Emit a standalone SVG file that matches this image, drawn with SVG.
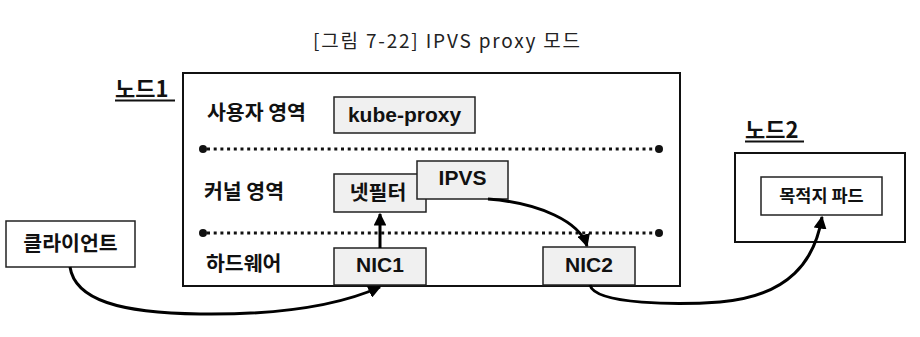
<svg xmlns="http://www.w3.org/2000/svg" width="920" height="337" viewBox="0 0 920 337">
<defs>
<style>
.ko{font-family:"Noto Sans CJK KR","Liberation Sans",sans-serif;font-weight:bold;font-size:20.5px;fill:#111}
.la{font-family:"Liberation Sans","Noto Sans CJK KR",sans-serif;font-weight:bold;font-size:21px;fill:#111}
.box{fill:#f0f0f0;stroke:#222;stroke-width:1.5}
.wbox{fill:#fff;stroke:#111;stroke-width:2}
.dot{stroke:#111;stroke-width:3;stroke-dasharray:3 3.7;fill:none}
.conn{fill:none;stroke:#000;stroke-width:3}
</style>
<marker id="ah" viewBox="0 0 10 10" refX="9" refY="5" markerWidth="4.3" markerHeight="4.3" orient="auto" markerUnits="strokeWidth">
<path d="M0,0 L10,5 L0,10 z" fill="#000"/>
</marker>
</defs>
<rect width="920" height="337" fill="#fff"/>
<text x="313" y="48" textLength="267" lengthAdjust="spacing" style="font-family:'Noto Sans CJK KR','Liberation Sans',sans-serif;font-size:19px;fill:#222">[그림 7-22] IPVS proxy 모드</text>

<g id="node1">
<rect x="183" y="73" width="497" height="213" class="wbox"/>
<text x="115" y="97" class="ko" style="font-size:22px">노드1</text>
<line x1="115" y1="100.5" x2="175" y2="100.5" stroke="#111" stroke-width="2"/>
<text x="207" y="120" class="ko">사용자 영역</text>
<text x="204" y="199" class="ko">커널 영역</text>
<text x="206" y="271" class="ko">하드웨어</text>
<line x1="207" y1="149" x2="655" y2="149" class="dot"/>
<circle cx="203" cy="149" r="4" fill="#111"/>
<circle cx="659" cy="149" r="4" fill="#111"/>
<line x1="207" y1="233" x2="655" y2="233" class="dot"/>
<circle cx="203" cy="233" r="4" fill="#111"/>
<circle cx="659" cy="233" r="4" fill="#111"/>
</g>

<g id="kube-proxy">
<rect x="334" y="97" width="141" height="36" class="box"/>
<text x="404.5" y="122" text-anchor="middle" class="la">kube-proxy</text>
</g>
<g id="netfilter">
<rect x="334" y="174" width="92" height="38" class="box"/>
<text x="378" y="200" text-anchor="middle" class="ko">넷필터</text>
</g>
<g id="ipvs">
<rect x="417" y="161" width="91" height="38" class="box"/>
<text x="462.5" y="185" text-anchor="middle" class="la">IPVS</text>
</g>
<g id="nic1">
<rect x="334" y="248" width="92" height="37" class="box"/>
<text x="380" y="272" text-anchor="middle" class="la">NIC1</text>
</g>
<g id="nic2">
<rect x="543" y="247" width="92" height="38" class="box"/>
<text x="589" y="272" text-anchor="middle" class="la">NIC2</text>
</g>

<g id="client">
<rect x="6" y="221" width="129" height="46" fill="#fff" stroke="#222" stroke-width="1.5"/>
<text x="70.5" y="251" text-anchor="middle" class="ko">클라이언트</text>
</g>

<g id="node2">
<rect x="735" y="153" width="170" height="89" class="wbox"/>
<text x="745" y="138" class="ko" style="font-size:22px">노드2</text>
<line x1="745" y1="141.5" x2="804" y2="141.5" stroke="#111" stroke-width="2"/>
</g>
<g id="pod">
<rect x="761" y="177" width="121" height="38" fill="#fff" stroke="#222" stroke-width="1.5"/>
<text x="821.5" y="202" text-anchor="middle" class="ko" style="font-size:17.5px">목적지 파드</text>
</g>

<g id="connectors">
<path d="M70,267 C75,300 120,313 200,314 C280,315 340,305 380,287" class="conn" marker-end="url(#ah)"/>
<path d="M380,248 L380,214" class="conn" marker-end="url(#ah)"/>
<path d="M488,199 C540,203 580,222 587,246" class="conn" marker-end="url(#ah)"/>
<path d="M590,285 C595,305 680,305 720,302 C790,296 815,260 822,217" class="conn" marker-end="url(#ah)"/>
</g>
</svg>
